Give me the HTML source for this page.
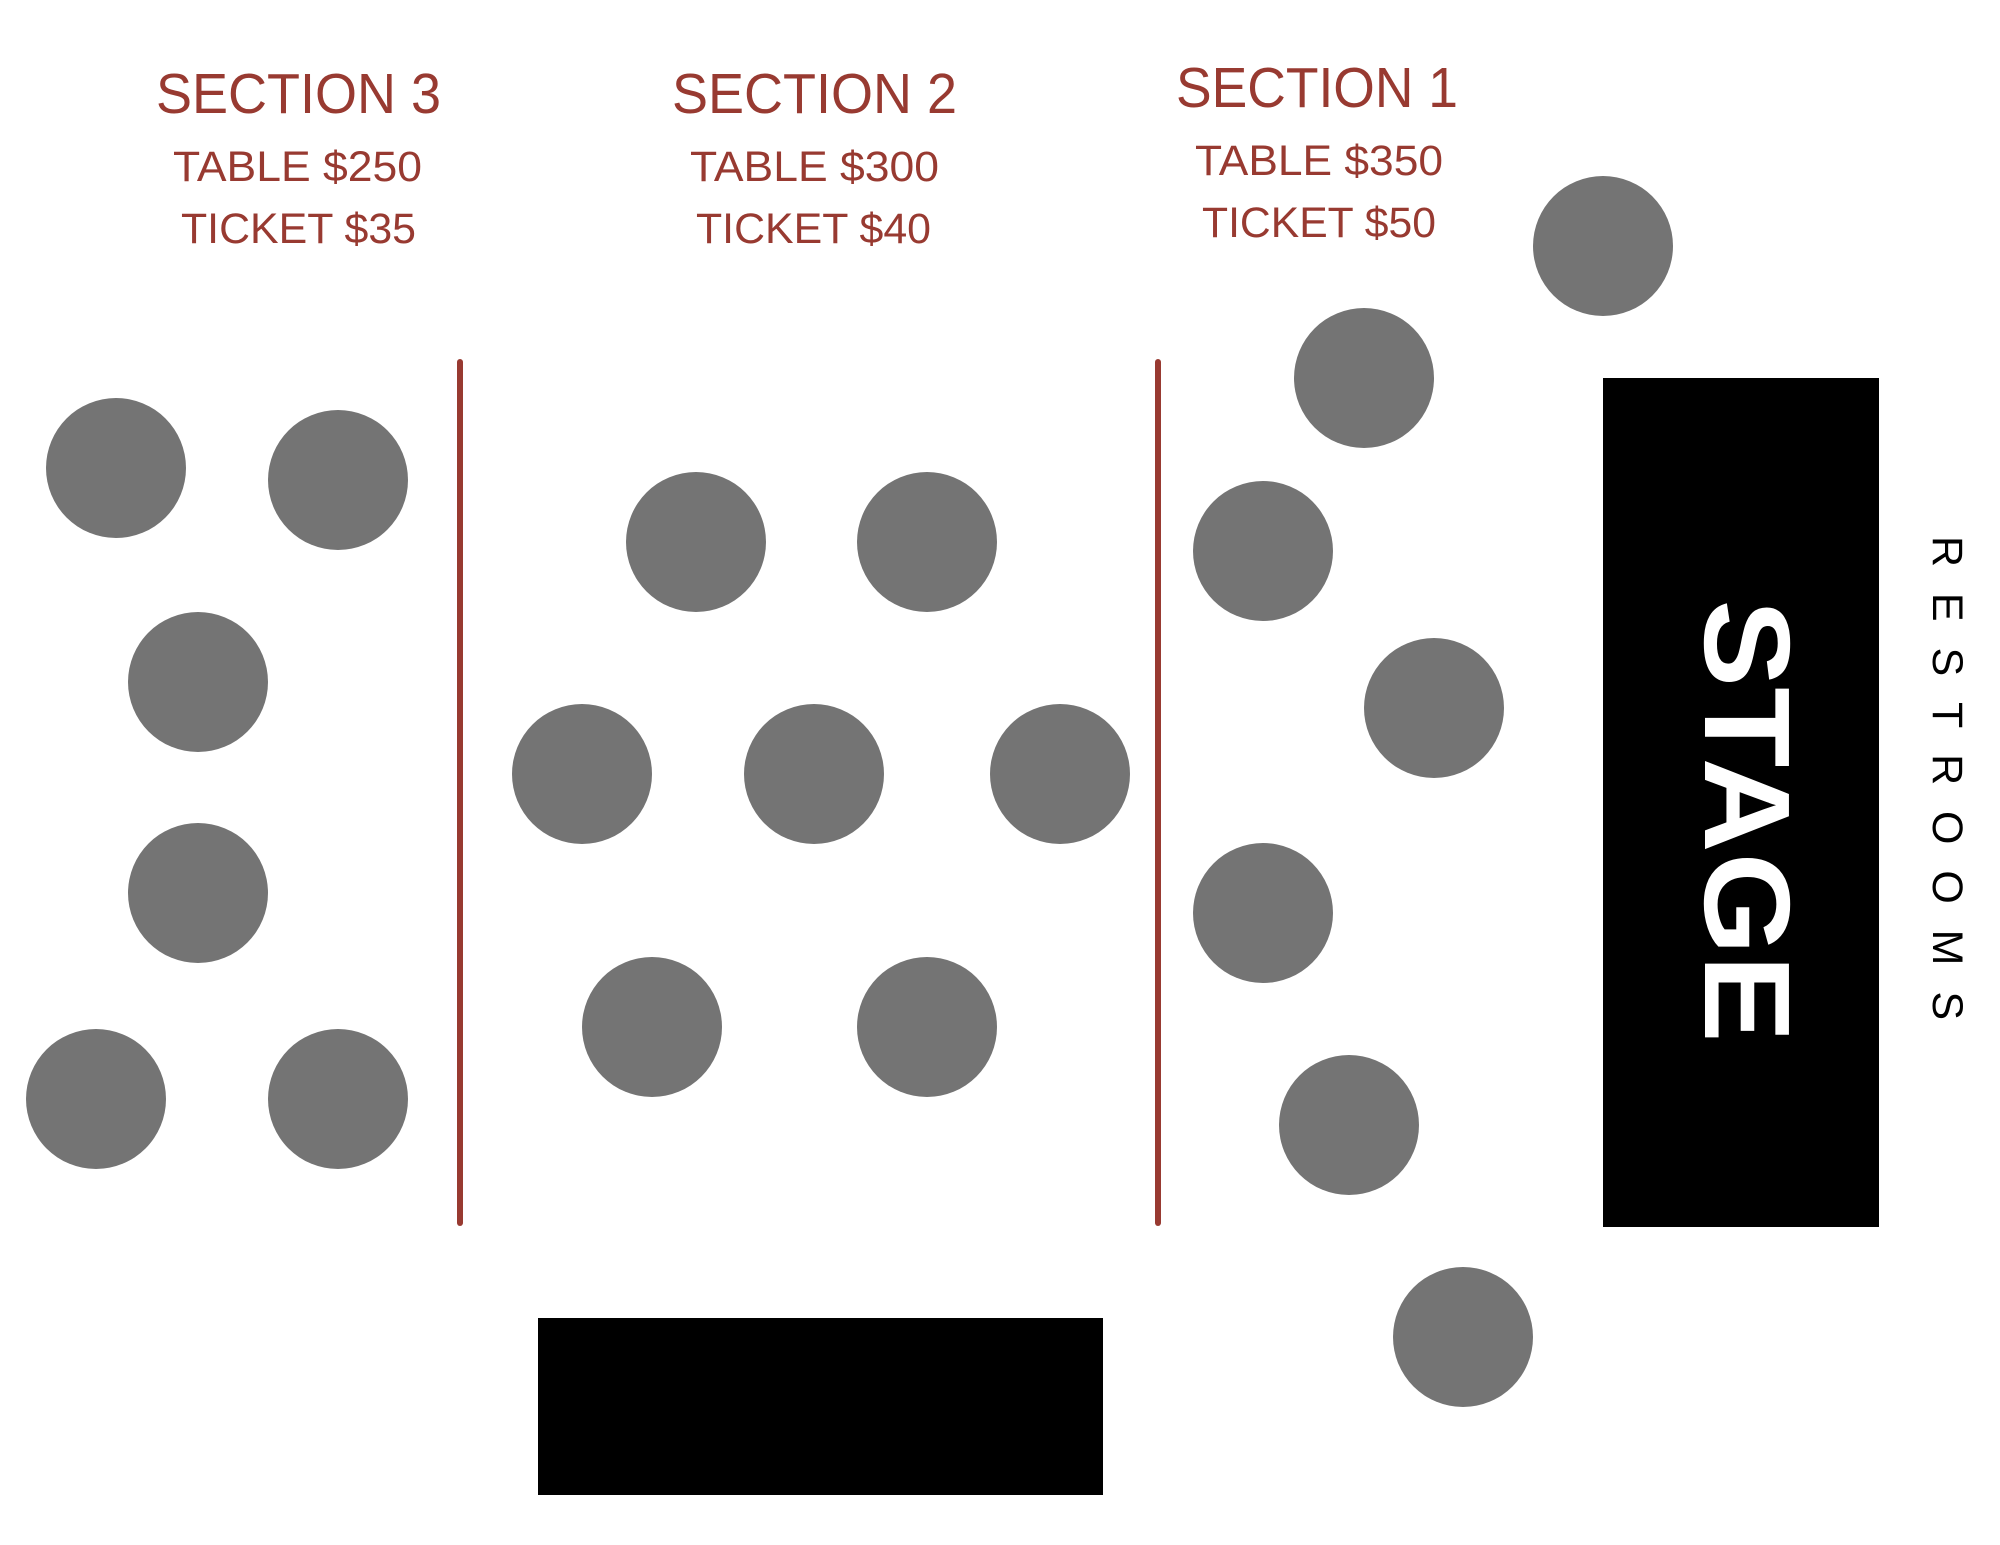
<!DOCTYPE html>
<html><head><meta charset="utf-8"><style>html,body{margin:0;padding:0;background:#fff}svg{display:block}</style></head>
<body>
<svg width="2000" height="1545" viewBox="0 0 2000 1545" xmlns="http://www.w3.org/2000/svg">
<rect width="2000" height="1545" fill="#fff"/>
<g font-family="Liberation Sans, sans-serif" fill="#983a31">
<text x="156" y="113" font-size="57" textLength="285" lengthAdjust="spacingAndGlyphs">SECTION 3</text>
<text x="173" y="181" font-size="43" textLength="249" lengthAdjust="spacingAndGlyphs">TABLE $250</text>
<text x="181" y="243" font-size="43" textLength="235" lengthAdjust="spacingAndGlyphs">TICKET $35</text>
<text x="672" y="113" font-size="57" textLength="285" lengthAdjust="spacingAndGlyphs">SECTION 2</text>
<text x="690" y="181" font-size="43" textLength="249" lengthAdjust="spacingAndGlyphs">TABLE $300</text>
<text x="696" y="243" font-size="43" textLength="235" lengthAdjust="spacingAndGlyphs">TICKET $40</text>
<text x="1176" y="107" font-size="57" textLength="282" lengthAdjust="spacingAndGlyphs">SECTION 1</text>
<text x="1195" y="175" font-size="43" textLength="248" lengthAdjust="spacingAndGlyphs">TABLE $350</text>
<text x="1202" y="237" font-size="43" textLength="234" lengthAdjust="spacingAndGlyphs">TICKET $50</text>
</g>
<g stroke="#983a31" stroke-width="6" stroke-linecap="round">
<line x1="460" y1="362" x2="460" y2="1223"/>
<line x1="1158" y1="362" x2="1158" y2="1223"/>
</g>
<g fill="#747474">
<circle cx="116" cy="468" r="70"/><circle cx="338" cy="480" r="70"/>
<circle cx="198" cy="682" r="70"/><circle cx="198" cy="893" r="70"/>
<circle cx="96" cy="1099" r="70"/><circle cx="338" cy="1099" r="70"/>
<circle cx="696" cy="542" r="70"/><circle cx="927" cy="542" r="70"/>
<circle cx="582" cy="774" r="70"/><circle cx="814" cy="774" r="70"/><circle cx="1060" cy="774" r="70"/>
<circle cx="652" cy="1027" r="70"/><circle cx="927" cy="1027" r="70"/>
<circle cx="1603" cy="246" r="70"/><circle cx="1364" cy="378" r="70"/>
<circle cx="1263" cy="551" r="70"/><circle cx="1434" cy="708" r="70"/>
<circle cx="1263" cy="913" r="70"/><circle cx="1349" cy="1125" r="70"/>
<circle cx="1463" cy="1337" r="70"/>
</g>
<rect x="1603" y="378" width="276" height="849" fill="#000"/>
<rect x="538" y="1318" width="565" height="177" fill="#000"/>
<text transform="translate(1705,821) rotate(90)" x="0" y="0" text-anchor="middle" font-family="Liberation Sans, sans-serif" font-weight="bold" font-size="122" fill="#fff" textLength="443" lengthAdjust="spacingAndGlyphs">STAGE</text>
<text transform="translate(1933,778) rotate(90)" x="0" y="0" text-anchor="middle" font-family="Liberation Sans, sans-serif" font-size="43" fill="#000" textLength="484" lengthAdjust="spacing">RESTROOMS</text>
</svg>
</body></html>
